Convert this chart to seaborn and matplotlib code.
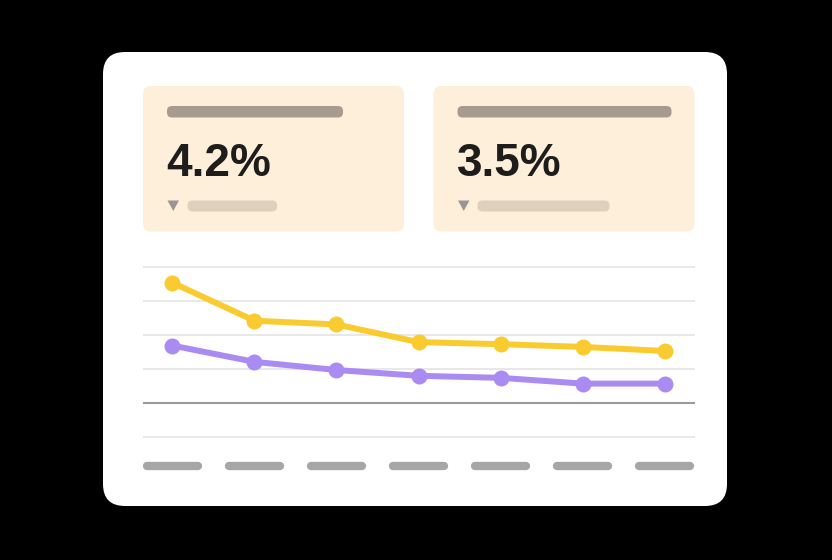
import pandas as pd
import numpy as np
import matplotlib.pyplot as plt
import seaborn as sns
from matplotlib.patches import FancyBboxPatch, Polygon

# values
steps = [0, 1, 2, 3, 4, 5, 6]
rate_a = [3.54, 2.42, 2.31, 1.79, 1.73, 1.65, 1.53]
rate_b = [1.69, 1.21, 0.97, 0.80, 0.74, 0.57, 0.57]
kpi_labels = ['4.2%', '3.5%']
grid_levels = [-1, 0, 1, 2, 3, 4]

YELLOW = '#FACB2F'
PURPLE = '#A98BF2'


def rounded(ax, x, y, w, h, r, color, z=1):
    ax.add_patch(FancyBboxPatch((x, y), w, h,
                                boxstyle="round,pad=0,rounding_size=%s" % r,
                                facecolor=color, edgecolor='none', zorder=z))


def draw_card(fig):
    bg = fig.add_axes([0, 0, 1, 1], zorder=0)
    bg.set_xlim(0, 832)
    bg.set_ylim(560, 0)
    bg.axis('off')

    rounded(bg, 103, 52, 624, 454, 22, 'white')

    # two kpi tiles: (left, top bar width, sub bar start, sub bar width)
    tiles = [(143, 176, 187.5, 89.5), (433.5, 214, 477.5, 132)]
    for (x0, bar_w, sub_x, sub_w), label in zip(tiles, kpi_labels):
        rounded(bg, x0, 86, 261, 145.5, 8, '#FDEFDA', 2)
        rounded(bg, x0 + 24, 106, bar_w, 11.5, 5, '#A69B8C', 3)
        bg.text(x0 + 23.5, 176.5, label, fontsize=33, fontweight='bold',
                family=['Liberation Sans', 'DejaVu Sans'],
                color='#1E1D1C', va='baseline', ha='left', zorder=4)
        bg.add_patch(Polygon([(x0 + 24.5, 200.5), (x0 + 36, 200.5), (x0 + 30.25, 211)],
                             closed=True, facecolor='#9B9595', edgecolor='none', zorder=3))
        rounded(bg, sub_x, 200.5, sub_w, 11, 5, '#DDD0BC', 3)


def draw_lines(fig):
    ax = fig.add_axes([143 / 832, 85 / 560, 552 / 832, 220 / 560], zorder=1)
    ax.patch.set_alpha(0)

    for lvl in grid_levels:
        if lvl == 0:
            ax.axhline(lvl, color='#9A9A9A', linewidth=1.5, zorder=1)
        else:
            ax.axhline(lvl, color='#E6E6E6', linewidth=1.3, zorder=1)

    df = pd.DataFrame({
        'step': steps + steps,
        'rate': rate_a + rate_b,
        'series': ['a'] * len(steps) + ['b'] * len(steps),
    })
    sns.lineplot(data=df, x='step', y='rate', hue='series',
                 palette={'a': YELLOW, 'b': PURPLE},
                 marker='o', markersize=11.5, markeredgewidth=0,
                 linewidth=4.3, legend=False, ax=ax, zorder=3)

    # placeholder x tick labels
    ax.hlines([-1.853] * len(steps), np.array(steps) - 0.314, np.array(steps) + 0.314,
              colors='#A6A6A6', linewidth=6, capstyle='round', zorder=2)

    ax.set_xlim(-0.357, 6.369)
    ax.set_ylim(-2.118, 4.353)
    ax.axis('off')


if __name__ == '__main__':
    sns.set_style('white')
    fig = plt.figure(figsize=(8.32, 5.6), dpi=100)
    fig.patch.set_facecolor('black')
    draw_card(fig)
    draw_lines(fig)
    plt.savefig('out.png', dpi=100, facecolor='black')
